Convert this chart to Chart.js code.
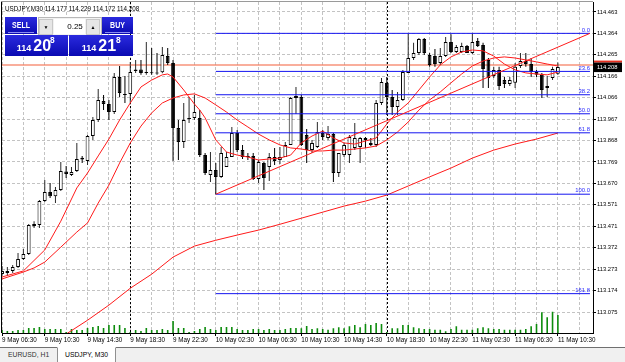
<!DOCTYPE html>
<html>
<head>
<meta charset="utf-8">
<title>USDJPY,M30</title>
<script src="https://cdn.jsdelivr.net/npm/chart.js@4.4.1/dist/chart.umd.min.js"></script>
<style>
  html, body { margin:0; padding:0; background:#fff; }
  #wrap { position:relative; width:625px; height:362px; overflow:hidden; font-family:"Liberation Sans", Arial, sans-serif; }
  #c { position:absolute; left:0; top:0; }
  #title { position:absolute; left:5px; top:5px; font-size:6.3px; line-height:8px; color:#000; white-space:pre; }
  .blue { position:absolute; background:linear-gradient(#2a2ade, #0a0ab2); color:#fff; font-weight:bold; overflow:hidden; }
  .btn-txt { position:absolute; left:0; right:0; top:3px; text-align:center; font-size:9px; line-height:10px; transform:scaleX(0.78); }
  .uline { position:absolute; left:3px; right:3px; bottom:1px; height:1px; background:#8c8cf0; }
  #lot { position:absolute; left:38px; top:17px; width:62px; height:17px; background:#f2f2f2; border:1px solid #b8b8b8; }
  .arr { position:absolute; top:1px; width:12px; height:14px; background:#e6e6e6; border:1px solid #c8c8c8; font-size:5px; line-height:14px; text-align:center; color:#000; }
  #lotfield { position:absolute; left:15px; top:1px; width:31px; height:15px; background:#fff; font-size:8px; line-height:15px; text-align:right; color:#000; }
  .px { position:absolute; line-height:1; white-space:nowrap; }
  #tabs { position:absolute; left:0; top:347px; width:625px; height:15px; background:#f0f0f0; border-top:1px solid #707070; }
  #tab1 { position:absolute; left:8px; top:4px; font-size:6.8px; line-height:1; color:#333; }
  #tab2 { position:absolute; left:57px; top:-1px; width:57px; height:14px; background:#fff; border:1px solid #909090; border-top:1px solid #fff; }
  #tab2 span { position:absolute; left:7px; top:4px; font-size:6.8px; line-height:1; color:#000; }
</style>
</head>
<body>
<div id="wrap">
  <canvas id="c" width="625" height="348" style="width:625px;height:348px"></canvas>
  <div id="title">USDJPY,M30 114.177 114.229 114.172 114.208</div>
  <div class="blue" style="left:5px;top:17px;width:32px;height:17px;"><div class="btn-txt">SELL</div><div class="uline"></div></div>
  <div id="lot">
    <div class="arr" style="left:0px;">&#9660;</div>
    <div id="lotfield">0.25&nbsp;</div>
    <div class="arr" style="left:47px;">&#9650;</div>
  </div>
  <div class="blue" style="left:102px;top:17px;width:31px;height:17px;"><div class="btn-txt">BUY</div><div class="uline"></div></div>
  <div class="blue" style="left:5px;top:35px;width:63px;height:21px;">
    <span class="px" style="left:11.7px;top:9.1px;font-size:9px;">114</span>
    <span class="px" style="left:28.3px;top:3.2px;font-size:16px;">20</span>
    <span class="px" style="left:45px;top:1.2px;font-size:8.4px;">8</span>
  </div>
  <div class="blue" style="left:69px;top:35px;width:64px;height:21px;">
    <span class="px" style="left:12.7px;top:9.1px;font-size:9px;">114</span>
    <span class="px" style="left:29.3px;top:3.2px;font-size:16px;">21</span>
    <span class="px" style="left:47px;top:1.2px;font-size:8.4px;">8</span>
  </div>
  <div id="tabs">
    <div id="tab1">EURUSD, H1</div>
    <div id="tab2"><span>USDJPY, M30</span></div>
  </div>
</div>
<script>
// ---------- data ----------
const timeLabels = ["9 May 06:30","9 May 10:30","9 May 14:30","9 May 18:30","9 May 22:30","10 May 02:30","10 May 06:30","10 May 10:30","10 May 14:30","10 May 18:30","10 May 22:30","11 May 02:30","11 May 06:30","11 May 10:30"];
const gridBars = [0,4,8,12,16,20,24,28,32,36,40,44,48,52,56,60,64,68,72,76,80,84,88,92,96,100,104,108];
const separatorBars = [24, 72];
const yTickValues = [113.075,113.174,113.273,113.372,113.471,113.571,113.670,113.769,113.868,113.967,114.066,114.166,114.265,114.364,114.463];

const opens = [
113.251,113.256,113.265,113.283,113.320,113.343,113.473,113.477,113.588,113.630,
113.611,113.639,113.725,113.709,113.727,113.789,113.774,113.889,113.963,114.051,
114.037,114.000,114.162,114.084,114.084,114.190,114.197,114.181,114.182,114.181,
114.184,114.259,114.227,113.926,113.861,113.968,113.973,113.973,113.801,113.709,
113.732,113.700,113.746,113.792,113.903,113.824,113.797,113.797,113.690,113.764,
113.746,113.792,113.778,113.792,113.848,114.065,114.070,113.894,113.824,113.838,
113.903,113.880,113.898,113.718,113.801,113.801,113.834,113.838,113.880,113.857,
113.848,114.042,114.135,114.070,114.023,114.056,114.181,114.250,114.273,114.338,
114.264,114.259,114.227,114.259,114.324,114.278,114.278,114.306,114.273,114.329,
114.310,114.241,114.167,114.195,114.148,114.130,114.135,114.213,114.236,114.222,
114.185,114.172,114.111,114.158,114.177];
const highs = [
113.288,113.283,113.293,113.348,113.367,113.482,113.495,113.593,113.686,113.672,
113.653,113.769,113.750,113.746,113.857,113.797,113.894,113.977,114.107,114.079,
114.056,114.181,114.213,114.167,114.232,114.241,114.241,114.324,114.296,114.273,
114.301,114.296,114.241,113.963,114.042,114.070,114.079,114.009,113.811,113.815,
113.764,113.838,113.815,113.931,113.917,113.848,113.811,113.811,113.778,113.769,
113.811,113.834,113.838,113.861,114.070,114.116,114.079,113.922,113.871,113.954,
113.917,113.935,113.903,113.811,113.857,113.894,113.949,113.885,113.885,113.880,
114.056,114.158,114.162,114.102,114.093,114.195,114.362,114.320,114.343,114.343,
114.273,114.292,114.296,114.347,114.360,114.310,114.320,114.310,114.364,114.343,
114.320,114.250,114.209,114.209,114.162,114.162,114.227,114.273,114.273,114.250,
114.195,114.181,114.167,114.209,114.229];
const lows = [
113.242,113.242,113.256,113.279,113.316,113.339,113.464,113.464,113.584,113.602,
113.579,113.635,113.695,113.704,113.723,113.764,113.755,113.871,113.954,114.009,
113.963,113.991,114.070,114.042,114.042,114.181,114.172,114.172,114.172,114.172,
114.179,114.218,113.774,113.778,113.834,113.949,113.963,113.792,113.709,113.676,
113.620,113.695,113.746,113.792,113.815,113.783,113.778,113.686,113.672,113.639,
113.681,113.755,113.760,113.792,113.848,113.991,113.843,113.764,113.811,113.834,
113.871,113.871,113.676,113.700,113.792,113.764,113.824,113.764,113.834,113.843,
113.838,114.033,113.986,113.986,113.986,114.051,114.181,114.241,114.264,114.264,
114.209,114.209,114.218,114.255,114.273,114.273,114.273,114.273,114.269,114.301,
114.111,114.111,114.158,114.102,114.111,114.121,114.111,114.204,114.209,114.162,
114.162,114.065,114.070,114.148,114.172];
const closes = [
113.265,113.265,113.283,113.320,113.343,113.477,113.482,113.588,113.630,113.611,
113.639,113.727,113.713,113.723,113.783,113.780,113.889,113.963,114.056,114.037,
114.000,114.162,114.088,114.079,114.185,114.197,114.181,114.183,114.179,114.178,
114.264,114.227,113.926,113.861,113.963,113.973,114.000,113.801,113.718,113.732,
113.700,113.811,113.792,113.903,113.824,113.792,113.792,113.690,113.769,113.695,
113.792,113.774,113.792,113.848,114.065,114.074,113.848,113.824,113.857,113.908,
113.885,113.898,113.718,113.811,113.848,113.885,113.880,113.880,113.871,113.848,
114.042,114.139,114.070,114.023,114.056,114.185,114.250,114.273,114.338,114.273,
114.218,114.222,114.259,114.324,114.278,114.301,114.306,114.273,114.324,114.306,
114.199,114.158,114.195,114.121,114.130,114.148,114.209,114.236,114.222,114.185,
114.172,114.102,114.121,114.199,114.208];
const volumes = [
120,80,80,120,120,200,200,240,160,160,
160,160,40,160,120,120,200,240,280,200,
320,320,320,200,40,120,80,200,120,120,
160,120,480,200,200,40,80,160,240,160,
120,240,240,240,160,120,120,160,160,120,
160,120,120,160,200,200,190,280,160,190,
160,130,190,230,190,270,320,230,360,320,
400,360,40,190,190,320,320,230,190,160,
160,130,130,70,160,270,130,130,130,190,
230,190,160,160,130,130,130,130,160,270,
360,830,630,850,720];

const maFast = [[0,113.237],[4,113.265],[8,113.362],[11,113.495],[14,113.649],[16,113.718],[18,113.797],[20,113.875],[22,113.963],[24,114.042],[26,114.116],[28,114.148],[30,114.172],[31,114.176],[32,114.162],[34,114.102],[36,114.037],[37,114.009],[38,113.973],[40,113.871],[42,113.815],[44,113.801],[46,113.792],[48,113.778],[50,113.783],[52,113.787],[54,113.801],[56,113.857],[58,113.889],[60,113.912],[62,113.880],[64,113.857],[66,113.852],[68,113.866],[70,113.880],[72,113.945],[74,114.000],[76,114.042],[78,114.102],[80,114.162],[82,114.218],[84,114.255],[86,114.278],[88,114.287],[90,114.283],[92,114.259],[94,114.222],[96,114.195],[98,114.181],[100,114.176],[102,114.172],[104,114.185]];
const maMid = [[0,113.228],[4,113.260],[6,113.279],[8,113.306],[11,113.375],[14,113.445],[16,113.487],[18,113.579],[20,113.662],[22,113.764],[24,113.857],[26,113.935],[28,113.996],[30,114.042],[32,114.065],[34,114.079],[36,114.084],[38,114.065],[40,114.033],[42,114.000],[44,113.963],[46,113.931],[48,113.898],[50,113.871],[52,113.848],[54,113.834],[56,113.829],[58,113.820],[60,113.820],[62,113.824],[64,113.824],[66,113.829],[68,113.834],[70,113.843],[72,113.871],[74,113.908],[76,113.954],[78,114.009],[80,114.056],[82,114.093],[84,114.135],[86,114.176],[88,114.213],[90,114.236],[92,114.250],[94,114.255],[96,114.250],[98,114.241],[100,114.232],[102,114.222],[104,114.213]];
const maSlow = [[10,112.936],[12,112.973],[16,113.037],[20,113.107],[24,113.185],[28,113.250],[32,113.329],[36,113.380],[40,113.407],[44,113.431],[48,113.454],[52,113.481],[56,113.509],[60,113.537],[64,113.565],[68,113.588],[72,113.616],[76,113.658],[80,113.700],[84,113.741],[88,113.787],[92,113.824],[96,113.852],[100,113.875],[104,113.903]];

const fibLabels = ["0.0","23.6","38.2","50.0","61.8","100.0","161.8"];
const fibLevels = [114.364,114.188,114.080,113.992,113.904,113.620,113.160];
const fibStartBar = 40;
const fibEndBar = 110;
const bidPrice = 114.208;
const askPrice = 114.218;

// ---------- chart ----------
const FONT = '"Liberation Sans", Arial, sans-serif';
const bars = closes.map((_, i) => i);
const bull = bars.map(i => closes[i] >= opens[i]);

const overlayPlugin = {
  id: 'mt4overlay',
  beforeDatasetsDraw(chart) {
    const {ctx, chartArea: a, scales: {x, y}} = chart;
    ctx.save();
    ctx.beginPath(); ctx.rect(a.left, a.top, a.right - a.left, a.bottom - a.top); ctx.clip();
    const ay = y.getPixelForValue(askPrice);
    ctx.strokeStyle = 'rgba(245,120,90,0.6)'; ctx.lineWidth = 2;
    ctx.beginPath(); ctx.moveTo(a.left, ay); ctx.lineTo(a.right, ay); ctx.stroke();
    ctx.strokeStyle = '#000'; ctx.lineWidth = 1; ctx.setLineDash([2, 2]);
    separatorBars.forEach(b => {
      const px = Math.round(x.getPixelForValue(b)) + 0.5;
      ctx.beginPath(); ctx.moveTo(px, a.top); ctx.lineTo(px, a.bottom); ctx.stroke();
    });
    ctx.restore();
  },
  afterDatasetsDraw(chart) {
    const {ctx, scales: {x, y}} = chart;
    ctx.save();
    ctx.font = '5.9px ' + FONT;
    ctx.fillStyle = '#2a2aff'; ctx.textAlign = 'right'; ctx.textBaseline = 'bottom';
    const lx = x.getPixelForValue(fibEndBar);
    fibLevels.forEach((p, k) => ctx.fillText(fibLabels[k], lx, y.getPixelForValue(p) - 0.5));
    ctx.restore();
  },
  afterDraw(chart) {
    const {ctx, chartArea: a, scales: {y}} = chart;
    ctx.save();
    ctx.fillStyle = '#000'; ctx.fillRect(a.left - 1, a.top - 1, 1, a.bottom - a.top + 1);
    ctx.fillStyle = '#9a9a9a'; ctx.fillRect(a.left - 1, a.top - 1, a.right - a.left + 1, 1);
    const by = y.getPixelForValue(bidPrice);
    ctx.fillStyle = '#e83020'; ctx.fillRect(a.right + 1, by - 6.5, 28, 2);
    ctx.fillStyle = '#000'; ctx.fillRect(a.right + 1, by - 4.5, 28, 9.5);
    ctx.fillStyle = '#fff'; ctx.font = '5.8px ' + FONT;
    ctx.textAlign = 'left'; ctx.textBaseline = 'middle';
    ctx.fillText(bidPrice.toFixed(3), a.right + 4, by + 0.5);
    ctx.restore();
  }
};

const lineDs = (label, pts, color, order) => ({
  type: 'line', label, data: pts.map(([b, v]) => ({x: b, y: v})),
  borderColor: color, borderWidth: 1, pointRadius: 0, tension: 0, order
});

const datasets = [
  { label: 'Volumes', yAxisID: 'yv', data: volumes.map((v, i) => ({x: i, y: v})),
    backgroundColor: '#0c8c0c', barThickness: 1.6, inflateAmount: 0, grouped: false, order: 20 },
  { label: 'Wicks', data: bars.map(i => ({x: i, y: [lows[i], highs[i]]})),
    backgroundColor: bars.map(i => bull[i] ? '#2a2a2a' : '#000'), barThickness: 1, inflateAmount: 0, grouped: false, order: 12 },
  { label: 'Bodies', data: bars.map(i => ({x: i, y: [opens[i], closes[i]]})),
    backgroundColor: bars.map(i => bull[i] ? '#fff' : '#000'), borderColor: '#000', borderWidth: 1,
    borderSkipped: false, barThickness: 3.8, minBarLength: 1, inflateAmount: 0, grouped: false, order: 11 },
  lineDs('MA slow', maSlow, '#ff1a1a', 6),
  lineDs('MA mid', maMid, '#ff1a1a', 5),
  lineDs('MA fast', maFast, '#ff1a1a', 4),
  ...fibLevels.map((lv, k) => lineDs('Fibo ' + fibLabels[k], [[fibStartBar, lv], [fibEndBar, lv]], '#1414f0', 3)),
  lineDs('Fibo base', [[fibStartBar, fibLevels[5]], [fibEndBar, fibLevels[0]]], '#ff1a1a', 2)
];

new Chart(document.getElementById('c'), {
  type: 'bar',
  data: { datasets },
  plugins: [overlayPlugin],
  options: {
    responsive: false, animation: false, devicePixelRatio: 1, events: [],
    layout: { padding: {left: 2, top: 2, right: 0, bottom: 0}, autoPadding: false },
    plugins: { legend: {display: false}, tooltip: {enabled: false} },
    scales: {
      x: {
        type: 'linear', min: 0, max: 110.57, offset: false,
        afterBuildTicks: s => { s.ticks = gridBars.map(v => ({value: v})); },
        grid: { offset: false, color: '#c3c3c3', lineWidth: 1, drawTicks: true, tickLength: 3, tickWidth: 1,
                tickColor: c => (c.tick && c.tick.value % 8 === 0) ? '#000' : 'rgba(0,0,0,0)', tickBorderDash: [] },
        border: { display: true, color: '#000', width: 1, dash: [3, 2] },
        ticks: { autoSkip: false, maxRotation: 0, minRotation: 0, align: 'start', padding: 0, color: '#000',
                 font: {family: FONT, size: 6.3},
                 callback: v => (v % 8 === 0 ? timeLabels[v / 8] : '') },
        afterFit: s => { s.height = 15; s.paddingLeft = 0; s.paddingRight = 0; }
      },
      y: {
        type: 'linear', position: 'right', min: 112.978, max: 114.509,
        afterBuildTicks: s => { s.ticks = yTickValues.map(v => ({value: v})); },
        grid: { color: '#c3c3c3', lineWidth: 1, tickLength: 3, tickColor: '#000', tickBorderDash: [] },
        border: { display: true, color: '#000', width: 1, dash: [3, 2] },
        ticks: { autoSkip: false, padding: 1, color: '#000', font: {family: FONT, size: 5.8},
                 callback: v => v.toFixed(3) },
        afterFit: s => { s.width = 32; s.paddingTop = 0; s.paddingBottom = 0; }
      },
      yv: { type: 'linear', display: false, min: 0, max: 13240 }
    }
  }
});
</script>
</body>
</html>
